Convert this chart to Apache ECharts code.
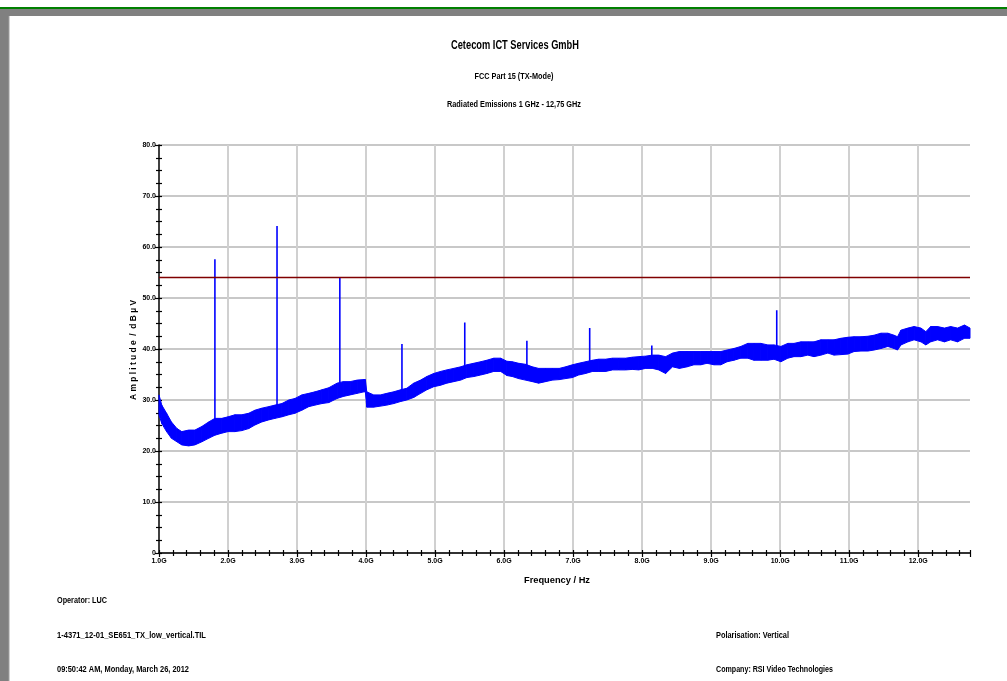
<!DOCTYPE html>
<html>
<head>
<meta charset="utf-8">
<script src="https://cdn.jsdelivr.net/npm/echarts@6/dist/echarts.min.js"></script>
<style>
html,body{margin:0;padding:0;background:#fff;}
#chart{width:1007px;height:681px;}
</style>
</head>
<body>
<div id="chart"></div>
<script>
// ---- Data ----
const freqGHz = [1.00,1.04,1.11,1.18,1.26,1.33,1.43,1.52,1.62,1.72,1.81,1.91,2.00,2.10,2.20,2.30,2.39,2.49,2.59,2.68,2.78,2.88,2.97,3.07,3.17,3.26,3.36,3.46,3.58,3.67,3.77,3.87,3.97,3.99,4.01,4.11,4.21,4.30,4.40,4.50,4.59,4.69,4.79,4.88,4.98,5.08,5.17,5.27,5.37,5.46,5.56,5.66,5.75,5.85,5.95,6.04,6.12,6.21,6.31,6.41,6.50,6.60,6.70,6.80,6.89,6.99,7.08,7.18,7.28,7.37,7.47,7.57,7.66,7.76,7.86,7.95,8.05,8.15,8.24,8.34,8.44,8.54,8.65,8.75,8.85,8.94,9.04,9.14,9.23,9.33,9.43,9.53,9.62,9.72,9.82,9.91,10.01,10.11,10.20,10.30,10.40,10.49,10.59,10.69,10.78,10.88,10.98,11.07,11.17,11.27,11.36,11.46,11.56,11.65,11.70,11.75,11.85,11.94,12.04,12.11,12.18,12.28,12.38,12.47,12.57,12.67,12.75];
const lowLevel = [27.1,25.4,23.8,22.5,21.8,21.2,21.0,21.2,21.8,22.5,23.1,23.5,23.8,23.8,24.0,24.4,25.1,25.7,26.1,26.4,26.7,27.1,27.4,28.0,28.7,29.0,29.3,29.5,30.3,30.7,31.0,31.3,31.6,31.6,28.6,28.6,28.8,29.0,29.3,29.7,30.0,30.5,31.3,32.0,32.6,32.9,33.3,33.6,33.9,34.4,34.6,34.9,35.2,35.6,35.6,34.8,34.6,34.2,33.9,33.6,33.3,33.6,33.9,34.0,34.2,34.4,34.9,35.2,35.6,35.6,35.6,35.9,35.9,35.9,36.0,35.9,36.2,36.2,35.9,35.2,36.5,36.2,36.5,36.9,36.9,37.2,36.9,36.9,37.5,37.8,38.2,38.2,37.8,37.8,37.8,38.0,37.5,38.2,38.5,38.5,38.8,38.5,38.8,39.2,38.8,38.9,39.0,39.5,39.6,39.6,39.8,40.1,40.5,40.1,39.8,40.8,41.4,41.8,41.4,40.8,41.4,41.8,41.4,41.8,41.4,42.1,42.1];
const highLevel = [31.0,29.0,27.4,25.7,24.4,23.8,24.1,24.1,24.8,25.7,26.4,26.4,26.7,27.1,27.1,27.4,28.0,28.4,28.7,29.0,29.3,30.0,30.3,31.0,31.3,31.6,32.0,32.4,33.3,33.6,33.6,33.9,34.0,34.0,31.6,31.0,31.0,31.3,31.6,32.0,32.3,33.3,33.9,34.6,35.2,35.6,35.9,36.2,36.5,36.9,37.2,37.5,37.8,38.2,38.2,37.6,37.5,37.2,37.0,36.5,36.2,36.2,36.2,36.2,36.5,36.9,37.2,37.5,37.8,38.0,38.0,38.2,38.2,38.2,38.4,38.5,38.6,38.8,38.8,38.5,39.2,39.5,39.5,39.5,39.5,39.5,39.5,39.5,39.8,40.1,40.5,41.1,41.1,41.1,40.8,40.8,40.5,41.1,41.1,41.4,41.4,41.4,41.8,41.8,41.8,42.1,42.3,42.4,42.4,42.5,42.7,43.1,43.1,42.7,42.4,43.7,44.1,44.4,44.1,43.4,44.4,44.4,44.1,44.4,44.1,44.7,44.1];
const spikeFreq = [1.81,2.71,3.62,4.52,5.43,6.33,7.24,8.14,9.95];
const spikeBase = [24.0,27.5,31.0,30.5,35.0,35.0,36.0,37.0,39.0];
const spikePeak = [57.6,64.1,53.9,41.0,45.2,41.6,44.1,40.7,47.6];
const limitFreq = [1.0,12.75];
const limitLevel = [54.0,54.0];
const xTickValues = [1,2,3,4,5,6,7,8,9,10,11,12];
const xTickLabels = ['1.0G','2.0G','3.0G','4.0G','5.0G','6.0G','7.0G','8.0G','9.0G','10.0G','11.0G','12.0G'];
const yTickValues = [0,10,20,30,40,50,60,70,80];
const yTickLabels = ['0','10.0','20.0','30.0','40.0','50.0','60.0','70.0','80.0'];

// ---- Build series data ----
const bandData = [];
for (let i = 0; i < freqGHz.length - 1; i++) {
  bandData.push([freqGHz[i], lowLevel[i], highLevel[i], freqGHz[i+1], lowLevel[i+1], highLevel[i+1]]);
}
const spikeData = [];
spikeFreq.forEach((f,i)=>{ spikeData.push([f, spikeBase[i]]); spikeData.push([f, spikePeak[i]]); spikeData.push([f, '-']); });
const limitData = limitFreq.map((f,i)=>[f, limitLevel[i]]);

const FONT = "'Liberation Sans Narrow','Arial Narrow','Liberation Sans',Arial,sans-serif";
const BASEFONT = "'Liberation Sans',Arial,sans-serif";
const mctx = document.createElement('canvas').getContext('2d');
function txt(text, x, y, size, weight, width, align){
  const font = (weight||'normal') + ' ' + size + 'px ' + BASEFONT;
  mctx.font = font;
  const w = mctx.measureText(text).width;
  return {type:'text', x:x, y:y, z:100, scaleX: width ? width/w : 1,
    style:{text:text, x:0, y:0, font:font, fill:'#000', align: align||'center', verticalAlign:'middle'}};
}

const chart = echarts.init(document.getElementById('chart'), null, {renderer:'canvas'});
const option = {
  animation:false,
  backgroundColor:'#ffffff',
  grid:{left:159, top:145, width:811, height:408, containLabel:false},
  xAxis:[{
    type:'value', min:1, max:12.75, interval:1,
    axisLine:{show:true, onZero:false, lineStyle:{color:'#000', width:1.5}},
    axisTick:{show:true, length:4, lineStyle:{color:'#000', width:1.2}},
    minorTick:{show:true, splitNumber:5, length:3, lineStyle:{color:'#000', width:1.2}},
    splitLine:{show:false},
    axisLabel:{fontFamily:FONT, fontSize:7, fontWeight:'bold', color:'#000', margin:5, showMaxLabel:false,
      formatter:v=>{const i=xTickValues.indexOf(v); return i>=0?xTickLabels[i]:'';}}
  },{
    type:'value', min:1, max:12.75, interval:1, position:'bottom',
    axisLine:{show:false}, axisLabel:{show:false}, splitLine:{show:false},
    axisTick:{show:true, inside:true, length:3, lineStyle:{color:'#000', width:1.2}},
    minorTick:{show:true, splitNumber:5, length:3, lineStyle:{color:'#000', width:1.2}}
  }],
  yAxis:[{
    type:'value', min:0, max:80, interval:10,
    axisLine:{show:true, onZero:false, lineStyle:{color:'#000', width:1.5}},
    axisTick:{show:true, length:4, lineStyle:{color:'#000', width:1.2}},
    minorTick:{show:true, splitNumber:4, length:3, lineStyle:{color:'#000', width:1.2}},
    splitLine:{show:true, lineStyle:{color:'#c8c8c8', width:2}},
    axisLabel:{fontFamily:FONT, fontSize:7, fontWeight:'bold', color:'#000', margin:3,
      formatter:v=>{const i=yTickValues.indexOf(v); return i>=0?yTickLabels[i]:'';}}
  },{
    type:'value', min:0, max:80, interval:10, position:'left',
    axisLine:{show:false}, axisLabel:{show:false}, splitLine:{show:false},
    axisTick:{show:true, inside:true, length:3, lineStyle:{color:'#000', width:1.2}},
    minorTick:{show:true, splitNumber:4, length:3, lineStyle:{color:'#000', width:1.2}}
  }],
  series:[
    {name:'vgrid', type:'line', data:[], silent:true, z:0, zlevel:0,
     markLine:{silent:true, z:0, symbol:['none','none'], label:{show:false},
       lineStyle:{color:'#d0d0d0', width:2, type:'solid'},
       data: xTickValues.slice(1).map(v=>({xAxis:v}))}},
    {name:'trace', type:'custom', z:3, data:bandData,
     renderItem:function(params, api){
       const p1 = api.coord([api.value(0), api.value(1)]);
       const p2 = api.coord([api.value(0), api.value(2)]);
       const p3 = api.coord([api.value(3), api.value(5)]);
       const p4 = api.coord([api.value(3), api.value(4)]);
       return {type:'polygon', shape:{points:[p1,p2,p3,p4]},
         style:{fill:'#0000ff', stroke:'#0000ff', lineWidth:1}};
     }},
    {name:'spikes', type:'line', data:spikeData, symbol:'none', connectNulls:false, z:4,
     lineStyle:{color:'#0000ff', width:1.6}},
    {name:'limit', type:'line', data:limitData, symbol:'none', z:5,
     lineStyle:{color:'#800000', width:1.5}}
  ],
  graphic:[
    {type:'rect', shape:{x:0,y:7,width:1007,height:2}, style:{fill:'#008000'}, z:50},
    {type:'rect', shape:{x:0,y:9,width:1007,height:7}, style:{fill:'#808080'}, z:50},
    {type:'rect', shape:{x:0,y:9,width:9,height:672}, style:{fill:'#808080'}, z:50},
    {type:'line', shape:{x1:9,y1:16,x2:9,y2:681}, style:{stroke:'#a0a0a0', lineWidth:1}, z:50},
    txt('Cetecom ICT Services GmbH', 515, 46, 12, 'bold', 128, 'center'),
    txt('FCC Part 15 (TX-Mode)', 514, 77, 9, 'bold', 79, 'center'),
    txt('Radiated Emissions 1 GHz - 12,75 GHz', 514, 105, 9, 'bold', 134, 'center'),
    txt('Frequency / Hz', 557, 581, 9, 'bold', 66, 'center'),
    txt('Operator: LUC', 57, 601, 9, 'bold', 50, 'left'),
    txt('1-4371_12-01_SE651_TX_low_vertical.TIL', 57, 636, 9, 'bold', 149, 'left'),
    txt('09:50:42 AM, Monday, March 26, 2012', 57, 670, 9, 'bold', 132, 'left'),
    txt('Polarisation: Vertical', 716, 636, 9, 'bold', 73, 'left'),
    txt('Company: RSI Video Technologies', 716, 670, 9, 'bold', 117, 'left'),
    Object.assign(txt('A m p l i t u d e  /  d B µ V', 134, 350, 9, 'bold', 100, 'center'), {rotation: Math.PI/2})
  ]
};
chart.setOption(option);
</script>
</body>
</html>
